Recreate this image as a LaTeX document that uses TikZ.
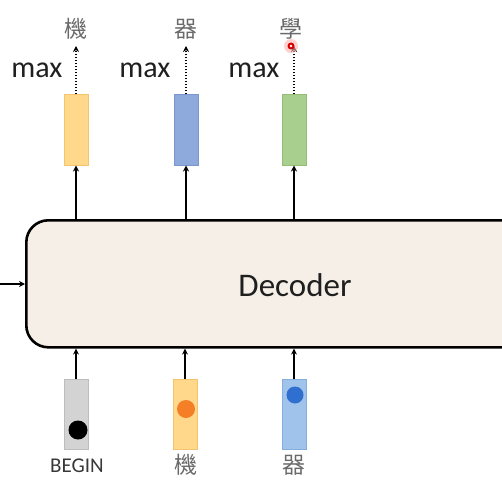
\documentclass[tikz,border=0pt]{standalone}
\usepackage{fontspec}
\setmainfont{Carlito}
\newfontfamily\cjk{Noto Sans CJK TC}
\usetikzlibrary{arrows.meta}
\definecolor{decfill}{HTML}{F6EFE7}
\definecolor{yel}{HTML}{FFD88C}
\definecolor{yelb}{HTML}{F2C46E}
\definecolor{blu}{HTML}{8EA9DB}
\definecolor{blub}{HTML}{7A96CC}
\definecolor{grn}{HTML}{A8CF8D}
\definecolor{grnb}{HTML}{92BE76}
\definecolor{gry}{HTML}{D3D3D3}
\definecolor{gryb}{HTML}{BDBDBD}
\definecolor{lblu}{HTML}{9FC3EA}
\definecolor{lblub}{HTML}{86AEDC}
\definecolor{org}{HTML}{F47F26}
\definecolor{dotblu}{HTML}{2F6FD0}
\definecolor{chgray}{HTML}{6A6A6A}
\tikzset{
  vec/.style={draw=#1, line width=1pt, minimum width=24pt, minimum height=70pt, inner sep=0pt},
  conn/.style={line width=1.6pt, -{Stealth[length=6pt,width=6pt]}},
  dotconn/.style={line width=2pt, dash pattern=on 1.6pt off 1.4pt, -{Stealth[length=6pt,width=6pt]}},
  maxlbl/.style={font=\fontsize{30}{31}\selectfont, anchor=east, text=black!88},
  chr/.style={font=\cjk\fontsize{23}{24}\selectfont, text=chgray},
}
\begin{document}
\begin{tikzpicture}[x=1pt,y=-1pt]
\useasboundingbox (0,0) rectangle (502,481);
% decoder
\node[draw=black, line width=2.6pt, fill=decfill, rounded corners=22pt, minimum width=520pt, minimum height=127pt, anchor=north west, inner sep=0pt] (dec) at (25,219) {};
\node[font=\fontsize{33}{34}\selectfont, text=black!88] (dectxt) at (295,285) {Decoder};
\coordinate (lin) at (0,284);
\draw[conn] (lin) -- (25,284);
% top vectors
\node[vec=yelb, fill=yel] (t1) at (76,130) {};
\node[vec=blub, fill=blu] (t2) at (186,130) {};
\node[vec=grnb, fill=grn] (t3) at (294,130) {};
\draw[conn] (t1.south |- dec.north) -- (t1.south);
\draw[conn] (t2.south |- dec.north) -- (t2.south);
\draw[conn] (t3.south |- dec.north) -- (t3.south);
\node[chr] (o1) at (76,29) {機};
\node[chr] (o2) at (186,29) {器};
\node[chr] (o3) at (291,29) {學};
\draw[dotconn] (t1.north) -- (76,46);
\draw[dotconn] (t2.north) -- (186,46);
\draw[dotconn] (t3.north) -- (294,46);
\node[maxlbl] (m1) at (66,70) {max};
\node[maxlbl] (m2) at (174,70) {max};
\node[maxlbl] (m3) at (283,70) {max};
\fill[red!30, opacity=0.6] (291,46) circle (7pt);
\fill[red!85!black] (291,46) circle (3.5pt);
\fill[white] (291,46) circle (1.3pt);
% bottom vectors
\node[vec=gryb, fill=gry] (b1) at (76,414) {};
\node[vec=yelb, fill=yel] (b2) at (185,414) {};
\node[vec=lblub, fill=lblu] (b3) at (294,414) {};
\draw[conn] (b1.north) -- (b1.north |- dec.south);
\draw[conn] (b2.north) -- (b2.north |- dec.south);
\draw[conn] (b3.north) -- (b3.north |- dec.south);
\fill[black] (78,430) circle (9.5pt);
\fill[org] (186,409) circle (9pt);
\fill[dotblu] (295,395) circle (8.5pt);
\node[font=\fontsize{21}{22}\selectfont, text=black!78] (l1) at (77,466) {BEGIN};
\node[chr] (l2) at (186,465) {機};
\node[chr] (l3) at (294,465) {器};
\end{tikzpicture}
\end{document}
